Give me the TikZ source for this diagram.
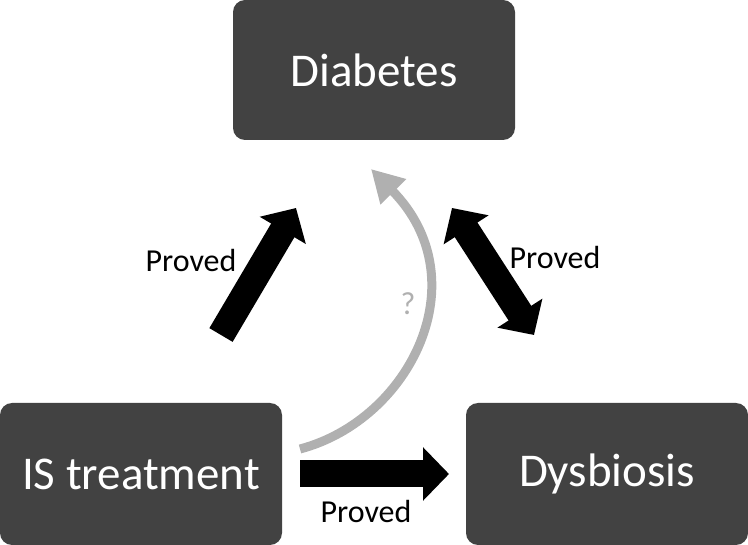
\documentclass[tikz,border=0pt]{standalone}
\usepackage{fontspec}
\setmainfont{Carlito}
\usetikzlibrary{arrows.meta}
\definecolor{boxgray}{HTML}{424242}
\definecolor{curvegray}{HTML}{B0B0B0}
\tikzset{
  box/.style={fill=boxgray, rounded corners=12pt, inner sep=0pt, text=white,
    font=\fontsize{47}{50}\selectfont, minimum width=282pt},
  fat/.style={line width=27pt, line cap=butt, -{Triangle[width=52pt,length=26pt]}},
  fatboth/.style={line width=27pt, line cap=butt, {Triangle[width=52pt,length=26pt]}-{Triangle[width=52pt,length=26pt]}},
  thin/.style={line width=9pt, curvegray, line cap=butt, -{Triangle[width=34pt,length=32pt]}},
  lbl/.style={inner sep=0pt, font=\fontsize{32}{34}\selectfont},
}
\begin{document}
\begin{tikzpicture}[x=1pt,y=-1pt]
\useasboundingbox (0,0) rectangle (748,545);
\node[box, minimum height=140pt] (dia) at (374,70) {Diabetes};
\node[box, minimum height=142pt] (ist) at (141,474) {IS treatment};
\node[box, minimum height=142pt] (dys) at (607,474) {Dysbiosis};

\coordinate (l1) at (221,335);
\coordinate (l2) at (296,208);
\coordinate (r1) at (452,208);
\coordinate (r2) at (534,335);
\coordinate (b1) at (300,474);
\coordinate (b2) at (449,474);
\coordinate (c1) at (300,449);
\coordinate (c2) at (371,169);

\draw[fat] (l1) -- (l2);
\draw[fatboth] (r1) -- (r2);
\draw[fat] (b1) -- (b2);
\draw[thin] (c1) .. controls (410,420) and (480,280) .. (c2);

\node[lbl] (p1) at (191,261) {Proved};
\node[lbl] (p2) at (555,258) {Proved};
\node[lbl] (p3) at (366,512) {Proved};
\node[lbl, text=curvegray, font=\fontsize{32}{34}\selectfont] (q) at (408,304) {?};
\end{tikzpicture}
\end{document}
